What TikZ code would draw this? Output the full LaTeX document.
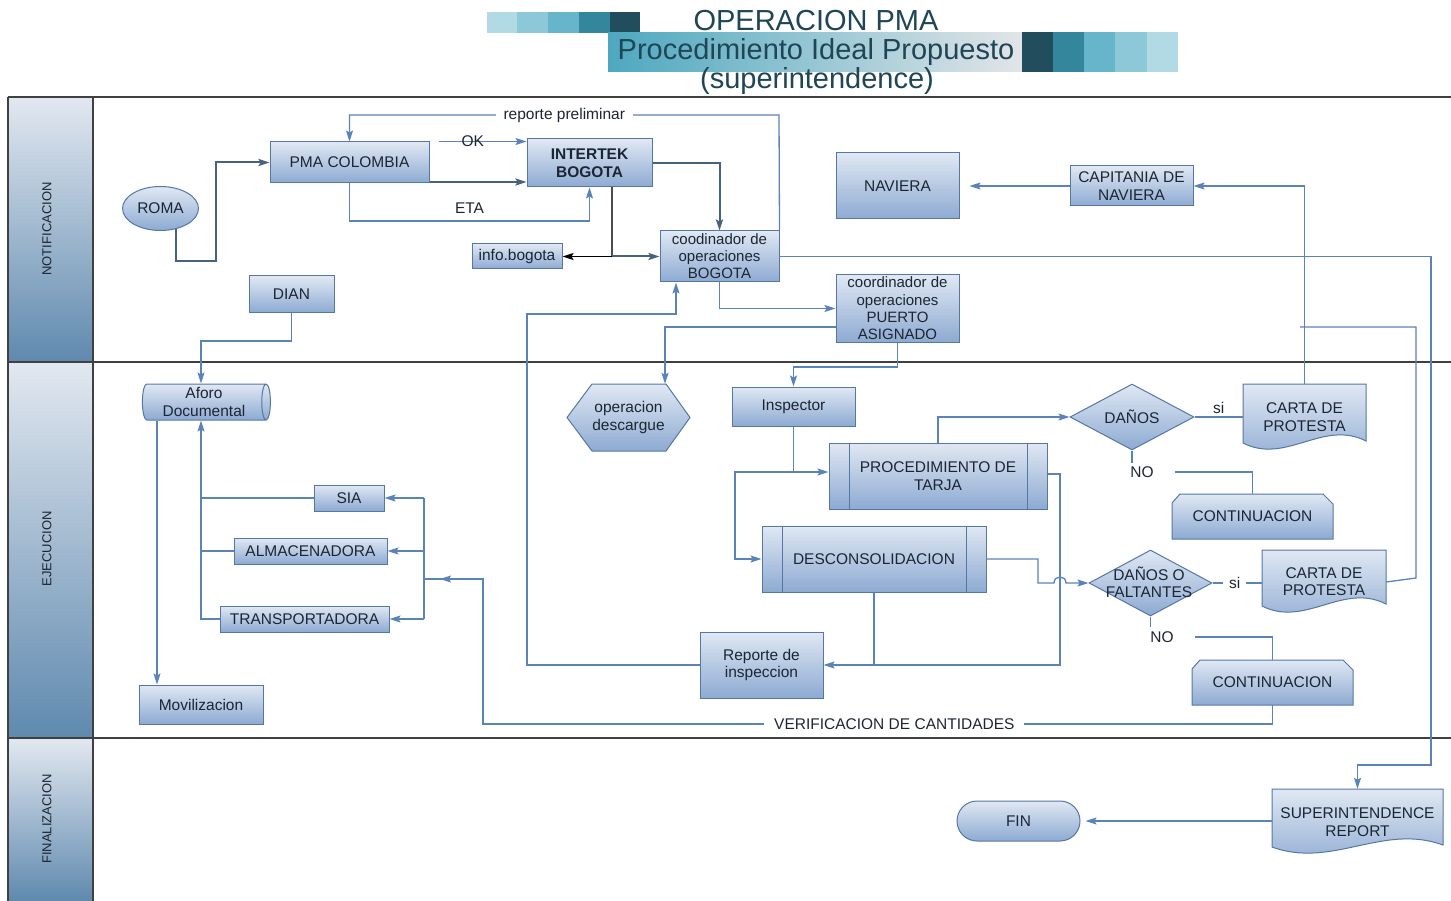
\documentclass[tikz,border=0pt]{standalone}
\usepackage{fontspec}
\setmainfont{Liberation Sans}
\usetikzlibrary{shapes.geometric,shapes.misc,arrows.meta}
\definecolor{lncol}{HTML}{5A83B9}
\definecolor{lndk}{HTML}{46627F}
\definecolor{bd}{HTML}{5577A5}
\definecolor{ft}{HTML}{E0E8F3}
\definecolor{fb}{HTML}{8DAAD2}
\definecolor{tx}{HTML}{1C2633}
\definecolor{ttl}{HTML}{1F4656}
\definecolor{sqa}{HTML}{B2DAE5}
\definecolor{sqb}{HTML}{8CC8D8}
\definecolor{sqc}{HTML}{67B5CA}
\definecolor{sqd}{HTML}{33869C}
\definecolor{sqe}{HTML}{214D5D}
\definecolor{barl}{HTML}{4DA8BF}
\definecolor{barr}{HTML}{E2E5E8}
\definecolor{hdt}{HTML}{E2E8F0}
\definecolor{hdb}{HTML}{5F89AE}
\newcommand{\fs}{\fontsize{15.5}{17.5}\selectfont}
\begin{document}
\begin{tikzpicture}[x=1pt,y=-1pt,
  box/.style={rectangle,draw=bd,line width=1pt,top color=ft,bottom color=fb,text=tx,font=\fs,align=center,inner sep=0pt},
  shp/.style={draw=bd,line width=1pt,top color=ft,bottom color=fb},
  lbl/.style={text=tx,font=\fs,align=center,inner sep=0pt},
  ghost/.style={rectangle,draw=none,fill=none,inner sep=0pt,text=tx,font=\fs,align=center},
  pproc/.style={box,path picture={\draw[bd,line width=1pt] ([xshift=20pt]path picture bounding box.north west) -- ([xshift=20pt]path picture bounding box.south west) ([xshift=-20pt]path picture bounding box.north east) -- ([xshift=-20pt]path picture bounding box.south east);}},
  conn/.style={draw=lncol,line width=1.3pt},
  dconn/.style={draw=lndk,line width=2pt},
  arr/.style={-{Stealth[length=11pt,width=7pt,inset=2pt]}},
  lane/.style={draw=black!75,line width=1.2pt},
  hdr/.style={rotate=90,font=\fontsize{13}{15}\selectfont,text=tx,inner sep=0pt},
  ttlf/.style={anchor=base,text=ttl,font=\fontsize{29}{32}\selectfont,inner sep=0pt}
]
\useasboundingbox (0,0) rectangle (1451,901);
\fill[white] (0,0) rectangle (1451,901);

% ---------- title ----------
\fill[sqa] (487,12) rectangle (517,33);
\fill[sqb] (517,12) rectangle (548,33);
\fill[sqc] (548,12) rectangle (579,33);
\fill[sqd] (579,12) rectangle (610,33);
\fill[sqe] (610,12) rectangle (640,33);
\shade[left color=barl,right color=barr] (608,33) rectangle (1022,72);
\fill[sqe] (1022,32) rectangle (1053,72);
\fill[sqd] (1053,32) rectangle (1084,72);
\fill[sqc] (1084,32) rectangle (1115,72);
\fill[sqb] (1115,32) rectangle (1147,72);
\fill[sqa] (1147,32) rectangle (1178,72);
\node[ttlf] (t1) at (816,31) {OPERACION PMA};
\node[ttlf] (t2) at (816,60) {Procedimiento Ideal Propuesto};
\node[ttlf] (t3) at (817,89) {(superintendence)};

% ---------- lanes ----------
\shade[top color=hdt,bottom color=hdb] (8,97) rectangle (93,362);
\shade[top color=hdt,bottom color=hdb] (8,362) rectangle (93,738);
\shade[top color=hdt,bottom color=hdb] (8,738) rectangle (93,901);
\draw[lane] (8,97) -- (1451,97);
\draw[lane] (8,362) -- (1451,362);
\draw[lane] (8,738) -- (1451,738);
\draw[lane] (8,97) -- (8,901);
\draw[lane] (93,97) -- (93,901);
\node[hdr] (h1) at (47,229) {NOTIFICACION};
\node[hdr] (h2) at (47,549) {EJECUCION};
\node[hdr] (h3) at (47,819) {FINALIZACION};

% ---------- drawn shapes ----------
\path[shp] (567,417.5) -- (592,384) -- (666,384) -- (690,417.5) -- (666,451) -- (592,451) -- cycle;
\path[shp] (1243,384) -- (1366,384) -- (1366,441) .. controls (1323,419) and (1286,465) .. (1243,443) -- cycle;
\path[shp] (1262,550) -- (1386,550) -- (1386,604) .. controls (1343,582) and (1305,628) .. (1262,606) -- cycle;
\path[shp] (1272,789) -- (1443,789) -- (1443,845) .. controls (1383,823) and (1332,869) .. (1272,847) -- cycle;
\path[shp] (1172,539) -- (1172,503) -- (1180,494) -- (1323,494) -- (1333,504) -- (1333,539) -- cycle;
\path[shp] (1192,705) -- (1192,669) -- (1200,660) -- (1343,660) -- (1353,670) -- (1353,705) -- cycle;

% ---------- nodes ----------
\node[box,ellipse,minimum width=76,minimum height=44] (roma) at (160.5,208.5) {ROMA};
\node[box,minimum width=159,minimum height=41] (pma) at (349.5,162.5) {PMA COLOMBIA};
\node[box,minimum width=125,minimum height=48,font=\fs\bfseries] (intertek) at (589.5,163) {INTERTEK\\BOGOTA};
\node[box,minimum width=90,minimum height=25] (info) at (517,256.5) {info.bogota};
\node[box,minimum width=119,minimum height=51,font=\fontsize{15}{17}\selectfont] (coordB) at (719.5,256.5) {coodinador de\\operaciones\\BOGOTA};
\node[box,minimum width=85,minimum height=37] (dian) at (291.5,294.5) {DIAN};
\node[box,minimum width=123,minimum height=66] (nav) at (897.5,186) {NAVIERA};
\node[box,minimum width=123,minimum height=40] (cap) at (1131.5,186) {CAPITANIA DE\\NAVIERA};
\node[box,minimum width=123,minimum height=67,font=\fontsize{15}{17.3}\selectfont] (puerto) at (897.5,308.5) {coordinador de\\operaciones\\PUERTO\\ASIGNADO};
\node[box,cylinder,shape aspect=0.3,minimum width=36,minimum height=128] (aforo) at (204,402) {Aforo\\Documental};
\node[ghost,minimum width=123,minimum height=67] (hex) at (628.5,417.5) {operacion\\descargue};
\node[box,minimum width=123,minimum height=39] (insp) at (793.5,406.5) {Inspector};
\node[shp,diamond,minimum width=124,minimum height=66,inner sep=0pt] (danos) at (1132,417) {};
\node[lbl] (danost) at (danos) {DAÑOS};
\node[ghost,minimum width=123,minimum height=66] (c1) at (1304.5,417) {CARTA DE\\PROTESTA};
\node[pproc,minimum width=218,minimum height=66] (proc) at (938,476) {PROCEDIMIENTO DE\\TARJA};
\node[ghost,minimum width=161,minimum height=45] (cont1) at (1252.5,516.5) {CONTINUACION};
\node[box,minimum width=70,minimum height=26] (sia) at (349,498) {SIA};
\node[box,minimum width=153,minimum height=26] (alm) at (310.5,551) {ALMACENADORA};
\node[box,minimum width=169,minimum height=26] (trans) at (304.5,619) {TRANSPORTADORA};
\node[pproc,minimum width=224,minimum height=66] (desc) at (874,559) {DESCONSOLIDACION};
\node[shp,diamond,minimum width=123,minimum height=66,inner sep=0pt] (dof) at (1150.5,583) {};
\node[lbl] (doft) at (1149,582.5) {DAÑOS O\\FALTANTES};
\node[ghost,minimum width=124,minimum height=63] (c2) at (1324,581.5) {CARTA DE\\PROTESTA};
\node[ghost,minimum width=161,minimum height=45] (cont2) at (1272.5,682.5) {CONTINUACION};
\node[box,minimum width=123,minimum height=66] (rep) at (761.5,665) {Reporte de\\inspeccion};
\node[box,minimum width=124,minimum height=39] (mov) at (201,704.5) {Movilizacion};
\node[ghost,minimum width=171,minimum height=66] (sup) at (1357.5,822) {SUPERINTENDENCE\\REPORT};
\node[box,rounded rectangle,minimum width=123,minimum height=40] (fin) at (1018.5,821) {FIN};
\node[lbl] (no1) at (1142,472) {NO};
\node[lbl] (no2) at (1162,637) {NO};
\coordinate (e23) at (1300,327);

% ---------- connectors ----------
\draw[dconn,arr] (roma.-53) |- (216,261) |- (pma.west);
\draw[conn,arr] ([xshift=9pt]pma.north east) -- node[pos=0.39,lbl]{OK} (intertek.west |- pma.north);
\draw[dconn,arr] (pma.east |- 0,182) -- (intertek.west |- 0,182);
\draw[conn,arr] (pma.south) -- (349.5,221) -- node[above=7pt,lbl]{ETA} (589.5,221) -- (intertek.south);
\draw[conn,arr] (coordB.north east) -- (779,115) -- node[pos=0.5,fill=white,lbl,inner xsep=8pt]{reporte preliminar} (349.5,115) -- (pma.north);
\draw[dconn,arr] (intertek.east) -| (coordB.north);
\draw[draw=black!70,line width=1.3pt] (intertek.south -| 612,0) -- (612,256.5);
\draw[draw=black,line width=1.5pt,arr] (612,256.5) -- (info.east);
\draw[dconn,arr] (612,256.5) -- (coordB.west);
\draw[conn,arr] (coordB.east) -- (1431,256.5) -- (1431,765) -- (1357.5,765) -- (sup.north);
\draw[conn,arr] (coordB.south) |- (puerto.west);
\draw[conn,arr] (puerto.west |- 0,327) -| (hex.north -| 665,0);
\draw[conn,arr] (puerto.south) -- (puerto.south |- 0,367) -| (insp.north);
\draw[conn,arr] (rep.west) -- (527,665) -- (527,314) -- (676,314) -- (coordB.south -| 676,0);
\draw[conn,arr] (insp.south) |- (proc.west |- 0,472);
\draw[conn,arr] (insp.south |- 0,472) -- (735,472) |- (desc.west);
\draw[conn,arr] (proc.north) |- (danos.west);
\draw[conn,arr] (proc.east |- 0,474) -- (1060,474) -- (1060,665) -- (rep.east);
\draw[conn] (desc.south) -- (desc.south |- 0,665);
\draw[conn,arr] (desc.east) -- (1038,559) -- (1038,583) -- (1054,583) .. controls (1054,575) and (1066,575) .. (1066,583) -- (dof.west);
\draw[conn] (danos.east) -- node[above=3pt,lbl]{si} (c1.west |- danos.east);
\draw[conn] (danos.south) -- (danos.south |- 0,463);
\draw[conn] ([xshift=21pt]no1.east) -| (cont1.north);
\draw[conn,arr] (c1.north) |- (cap.east);
\draw[conn,arr] (cap.west) -- ([xshift=10pt]nav.east);
\draw[conn] (dof.east) -- node[pos=0.45,fill=white,lbl,inner xsep=6pt]{si} (c2.west |- dof.east);
\draw[conn] (dof.south) -- (dof.south |- 0,627);
\draw[conn] ([xshift=21pt]no2.east) -| (cont2.north);
\draw[conn] (c2.east |- 0,582) -- (1416,578) -- (1416,327) -- (e23);
\draw[conn] (cont2.south) -- (cont2.south |- 0,724) -- node[pos=0.479,fill=white,lbl,inner xsep=10pt]{VERIFICACION DE CANTIDADES} (483,724) -- (483,579) -- (424,579);
\draw[conn,arr] (483,579) -- (440,579);
\draw[conn] (sia.east -| 424,0) -- (trans.east -| 424,0);
\draw[conn,arr] (sia.east -| 424,0) -- (sia.east);
\draw[conn,arr] (alm.east -| 424,0) -- (alm.east);
\draw[conn,arr] (trans.east -| 424,0) -- (trans.east);
\draw[conn] (sia.west) -- (sia.west -| 201,0);
\draw[conn] (alm.west) -- (alm.west -| 201,0);
\draw[conn,arr] (trans.west) -| (aforo.south -| 201,0);
\draw[conn,arr] (dian.south) -- (dian.south |- 0,341) -| (aforo.north -| 201,0);
\draw[conn,arr] (aforo.south -| 157,0) -- (mov.north -| 157,0);
\draw[conn,arr] (fin.east -| sup.west) -- ([xshift=5pt]fin.east);
\end{tikzpicture}
\end{document}
